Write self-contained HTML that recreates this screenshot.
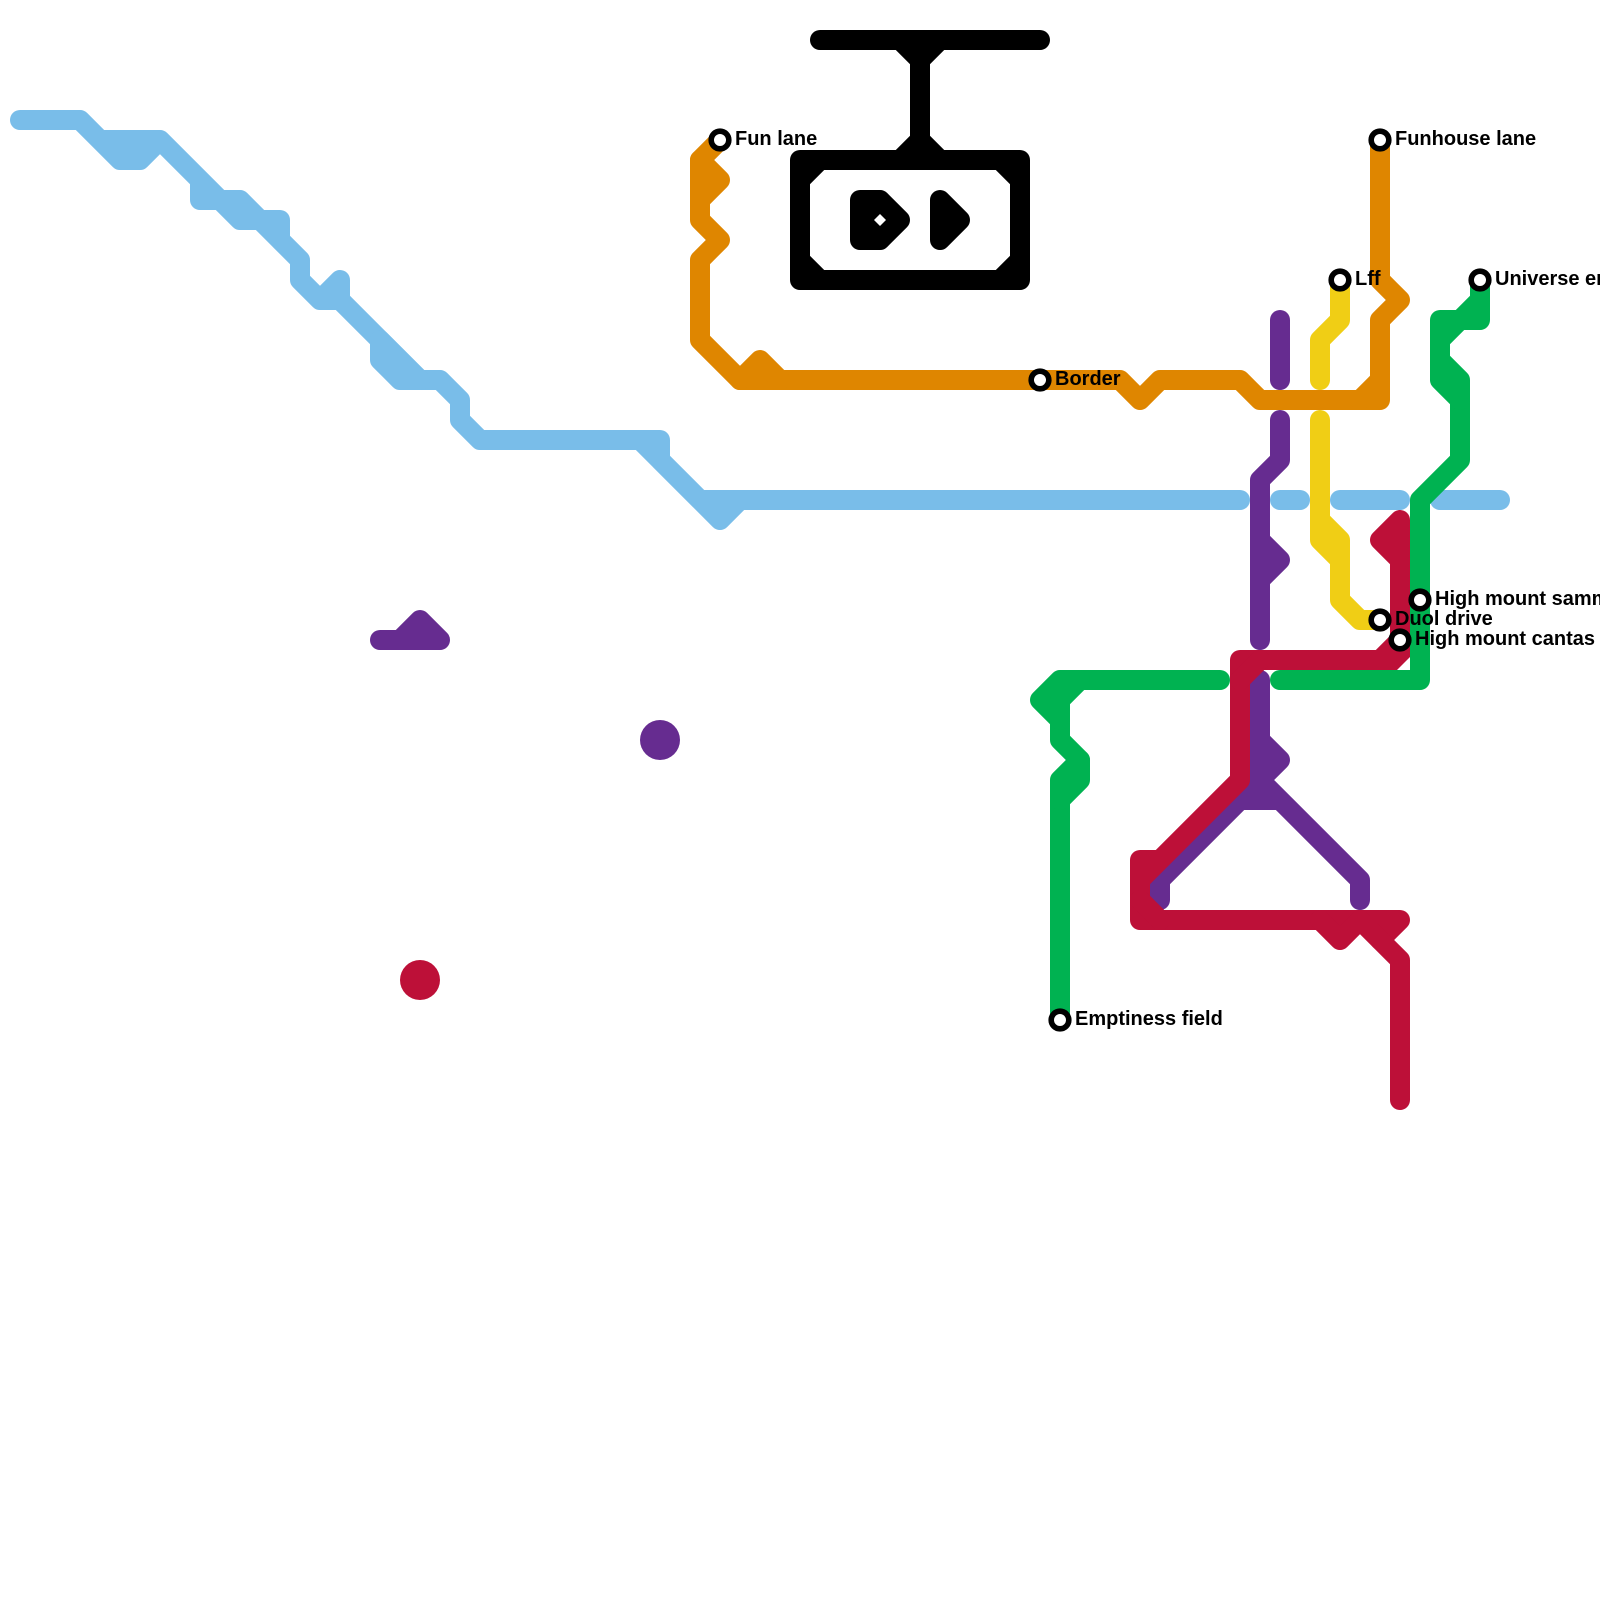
<!DOCTYPE html>
<html>
<head>
<meta charset="utf-8">
<style>
html,body{margin:0;padding:0;background:#fff;}
svg{display:block;}
text{font-family:"Liberation Sans",sans-serif;font-weight:bold;font-size:20px;fill:#000;}
.l{fill:none;stroke-width:20;stroke-linecap:round;stroke-linejoin:round;}
.s{fill:#fff;stroke:#000;stroke-width:5.6;}
</style>
</head>
<body>
<svg width="1600" height="1600" viewBox="0 0 1600 1600" xmlns="http://www.w3.org/2000/svg">
<rect width="1600" height="1600" fill="#fff"/>

<!-- blue -->
<g class="l" stroke="#79BDE9">
<path d="M20 120H80L120 160H140L160 140H100M160 140L220 200H240L300 260V280L320 300H340V280L320 300M200 180V200H220L240 220H280V240L300 260M340 300L420 380H440L460 400V420L480 440H660V460L700 500M640 440L720 520L740 500M700 500H1240"/>
<path d="M380 340L420 380H400L380 360Z"/>
<path d="M1280 500H1300M1340 500H1400M1440 500H1500"/>
</g>

<!-- purple -->
<g class="l" stroke="#662C90">
<path d="M1280 320V380"/>
<path d="M1280 420V460L1260 480V640M1260 540L1280 560L1260 580"/>
<path d="M380 640H440L420 620L400 640"/>
<path d="M1260 680V780L1360 880V900M1260 740L1280 760L1260 780L1240 800H1280M1240 800L1160 880V900"/>
</g>
<circle cx="660" cy="740" r="20" fill="#662C90"/>

<!-- orange -->
<g class="l" stroke="#DF8600">
<path d="M720 140L700 160V220L720 240L700 260V340L740 380H1120L1140 400L1160 380H1240L1260 400H1380V320L1400 300L1380 280V140"/>
<path d="M700 160L720 180L700 200M740 380L760 360L780 380M1380 380L1360 400"/>
</g>

<!-- yellow -->
<g class="l" stroke="#F0CE15">
<path d="M1340 280V320L1320 340V380"/>
<path d="M1320 420V540L1340 560V600L1360 620H1380M1320 520L1340 540V560"/>
</g>

<!-- green -->
<g class="l" stroke="#00B251">
<path d="M1480 280V320H1440V380L1460 400V460L1420 500V680H1280"/>
<path d="M1480 300L1460 320L1440 340V360L1460 380V400"/>
<path d="M1220 680H1060L1040 700L1060 720V740L1080 760V780L1060 800V1020"/>
<path d="M1080 680L1060 700V720M1080 760L1060 780V800"/>
</g>

<!-- red -->
<g class="l" stroke="#BD1038">
<path d="M1400 520L1380 540L1400 560M1400 520V640L1380 660H1240V780L1140 880V920H1400L1380 940M1240 780L1160 860H1140V880"/>
<path d="M1240 680L1260 660M1140 900L1160 920M1320 920L1340 940L1360 920L1400 960V1100"/>
</g>
<polygon points="1380,670 1397,670 1410,657 1410,640 1380,650" fill="#BD1038"/>
<circle cx="420" cy="980" r="20" fill="#BD1038"/>

<!-- black -->
<g class="l" stroke="#000">
<path d="M820 40H1040M920 40V160M900 40L920 60L940 40M900 160L920 140L940 160"/>
<path d="M800 160H1020V280H800ZM800 180L820 160M1000 160L1020 180M800 260L820 280M1000 280L1020 260"/>
<path d="M860 200H880L900 220L880 240H860ZM940 200V240L960 220Z" fill="#000"/>
</g>
<polygon points="880,214 886,220 880,226 874,220" fill="#fff"/>

<!-- stations -->
<circle class="s" cx="720" cy="140" r="8.8"/>
<circle class="s" cx="1040" cy="380" r="8.8"/>
<circle class="s" cx="1380" cy="140" r="8.8"/>
<circle class="s" cx="1340" cy="280" r="8.8"/>
<circle class="s" cx="1480" cy="280" r="8.8"/>
<circle class="s" cx="1420" cy="600" r="8.8"/>
<circle class="s" cx="1380" cy="620" r="8.8"/>
<circle class="s" cx="1400" cy="640" r="8.8"/>
<circle class="s" cx="1060" cy="1020" r="8.8"/>

<!-- labels -->
<text x="735" y="145">Fun lane</text>
<text x="1055" y="385">Border</text>
<text x="1395" y="145">Funhouse lane</text>
<text x="1355" y="285">Lff</text>
<text x="1495" y="285">Universe end</text>
<text x="1435" y="605">High mount sammit</text>
<text x="1395" y="625">Duol drive</text>
<text x="1415" y="645">High mount cantas</text>
<text x="1075" y="1025">Emptiness field</text>
</svg>
</body>
</html>
